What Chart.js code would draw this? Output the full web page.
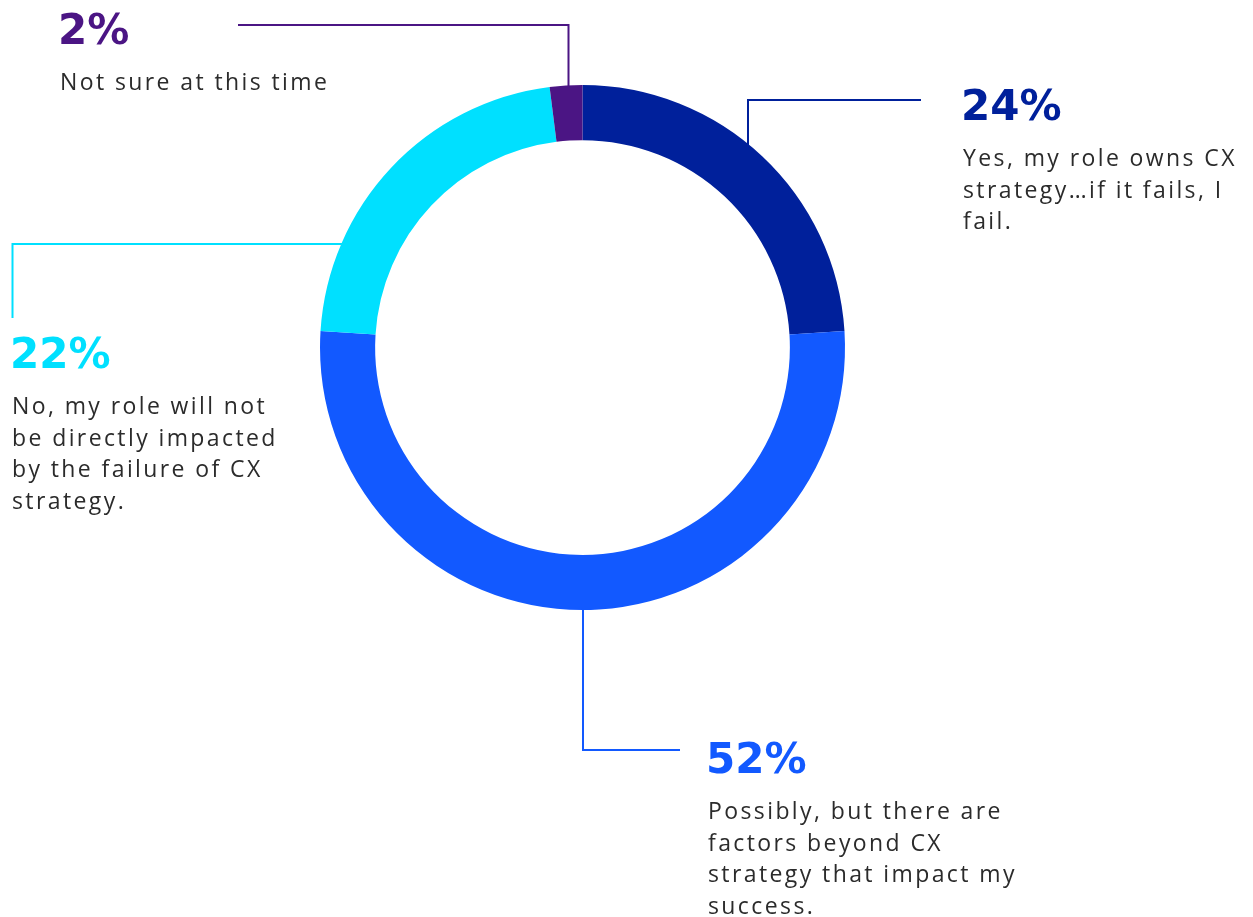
<!DOCTYPE html>
<html>
<head>
<meta charset="utf-8">
<title>CX strategy ownership</title>
<script src="https://cdn.jsdelivr.net/npm/chart.js@4.4.1/dist/chart.umd.min.js"></script>
<style>
    html, body {
        margin: 0;
        padding: 0;
        background: #ffffff;
    }
    #wrap {
        position: relative;
        width: 1253px;
        height: 917px;
    }
</style>
</head>
<body>
<div id="wrap">
    <canvas id="cxChart" width="1253" height="917"></canvas>
</div>
<script>
// Survey answers, clockwise from 12 o'clock
const answers = [
    'Yes, my role owns CX strategy…if it fails, I fail.',
    'Possibly, but there are factors beyond CX strategy that impact my success.',
    'No, my role will not be directly impacted by the failure of CX strategy.',
    'Not sure at this time'
];
const shares = [24, 52, 22, 2];
const sliceColors = ['#00209b', '#1259ff', '#00e0ff', '#4b1584'];

// Wrapped lines for each callout
const answerLines = [
    ['Yes, my role owns CX', 'strategy…if it fails, I', 'fail.'],
    ['Possibly, but there are', 'factors beyond CX', 'strategy that impact my', 'success.'],
    ['No, my role will not', 'be directly impacted', 'by the failure of CX', 'strategy.'],
    ['Not sure at this time']
];

// Callout placement: text block left edge / top, and leader elbows
const calloutX = [963, 708, 12, 60];
const calloutTop = [88, 741, 336, 12];
const leaders = [
    { axis: 'v', at: 748, dir: -1, elbow: 100, end: 921 },
    { axis: 'v', at: 583, dir: 1, elbow: 750, end: 680 },
    { axis: 'h', at: 244, dir: -1, elbow: 12.5, end: 318 },
    { axis: 'v', at: 568.5, dir: -1, elbow: 25, end: 238 }
];

const textColor = '#2b2b2b';
const numberFont = 'bold 42px "DejaVu Sans"';
const bodyFont = '400 23px "Open Sans"';
const lineGap = 31.5;

// Draws leader lines behind the ring and the callout text
const calloutPlugin = {
    id: 'callouts',
    beforeDatasetsDraw(chart) {
        const arc = chart.getDatasetMeta(0).data[0];
        const cx = arc.x, cy = arc.y;
        const rMid = (arc.innerRadius + arc.outerRadius) / 2;
        const ctx = chart.ctx;
        ctx.save();
        ctx.lineWidth = 2;
        leaders.forEach((l, i) => {
            ctx.strokeStyle = sliceColors[i];
            ctx.beginPath();
            if (l.axis === 'v') {
                const dy = Math.sqrt(rMid * rMid - (l.at - cx) * (l.at - cx));
                ctx.moveTo(l.at, cy + l.dir * dy);
                ctx.lineTo(l.at, l.elbow);
                ctx.lineTo(l.end, l.elbow);
            } else {
                const dx = Math.sqrt(rMid * rMid - (l.at - cy) * (l.at - cy));
                ctx.moveTo(cx + l.dir * dx, l.at);
                ctx.lineTo(l.elbow, l.at);
                ctx.lineTo(l.elbow, l.end);
            }
            ctx.stroke();
        });
        ctx.restore();
    },
    afterDatasetsDraw(chart) {
        const ctx = chart.ctx;
        ctx.save();
        ctx.textAlign = 'left';
        ctx.textBaseline = 'alphabetic';
        shares.forEach((v, i) => {
            const x = calloutX[i];
            const top = calloutTop[i];
            ctx.fillStyle = sliceColors[i];
            ctx.font = numberFont;
            ctx.letterSpacing = '0px';
            ctx.fillText(v + '%', x - 2, top + 32);
            ctx.fillStyle = textColor;
            ctx.font = bodyFont;
            ctx.letterSpacing = '2.4px';
            answerLines[i].forEach((line, j) => {
                ctx.fillText(line, x, top + 78 + j * lineGap);
            });
        });
        ctx.restore();
    }
};

const chart = new Chart(document.getElementById('cxChart'), {
    type: 'doughnut',
    data: {
        labels: answers,
        datasets: [{
            data: shares,
            backgroundColor: sliceColors,
            borderWidth: 0
        }]
    },
    options: {
        responsive: false,
        animation: false,
        cutout: '79%',
        layout: {
            padding: { left: 320, right: 408, top: 85, bottom: 307 }
        },
        plugins: {
            legend: { display: false },
            tooltip: { enabled: false }
        }
    },
    plugins: [calloutPlugin]
});
</script>
</body>
</html>
